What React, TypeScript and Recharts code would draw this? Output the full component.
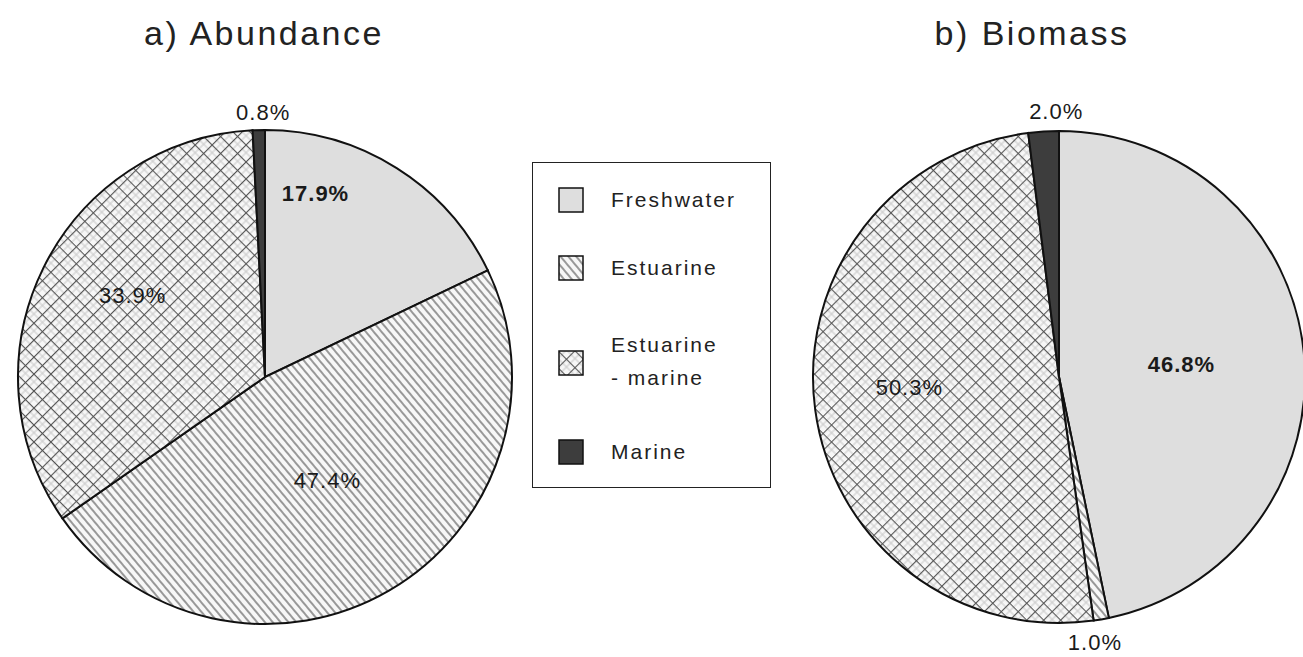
import { PieChart, Pie, Cell, Legend } from "recharts"

const categories = ["Freshwater", "Estuarine", "Estuarine - marine", "Marine"]
const abundanceValues = [17.9, 47.4, 33.9, 0.8]
const biomassValues = [46.8, 1.0, 50.3, 2.0]
const abundanceLabels = ["17.9%", "47.4%", "33.9%", "0.8%"]
const biomassLabels = ["46.8%", "1.0%", "50.3%", "2.0%"]

// label spots as [angle in degrees, fraction of the outer radius]
const abundanceSpots: [number, number][] = [[74.6, 0.77], [-59, 0.49], [148.3, 0.63], [90.4, 1.07]]
const biomassSpots: [number, number][] = [[5.6, 0.5], [-82.3, 1.09], [184.2, 0.61], [90.6, 1.08]]
const abundanceBold = [true, false, false, false]
const biomassBold = [true, false, false, false]

const fills = ["url(#fresh)", "url(#estuarine)", "url(#estmarine)", "#3d3d3d"]
const FONT = "'Liberation Sans', Arial, Helvetica, sans-serif"
const RAD = Math.PI / 180

const abundanceData = categories.map((name, i) => ({ name, value: abundanceValues[i], text: abundanceLabels[i] }))
const biomassData = categories.map((name, i) => ({ name, value: biomassValues[i], text: biomassLabels[i] }))

function makeLabel(spots: [number, number][], bold: boolean[]) {
  return (props: any) => {
    const { cx, cy, outerRadius, index, payload } = props
    const [ang, frac] = spots[index]
    const r = outerRadius * frac
    const x = cx + r * Math.cos(ang * RAD)
    const y = cy - r * Math.sin(ang * RAD)
    return (
      <text
        x={x}
        y={y}
        textAnchor="middle"
        dominantBaseline="central"
        fontFamily={FONT}
        fontSize={22}
        letterSpacing={1}
        fontWeight={bold[index] ? 700 : 400}
        fill="#1a1a1a"
      >
        {payload.text}
      </text>
    )
  }
}

function Swatch({ fill }: { fill: string }) {
  return (
    <svg width={27} height={27} style={{ display: "block" }}>
      <rect x={1} y={1} width={24} height={24} fill={fill} stroke="#111" strokeWidth={1.5} />
    </svg>
  )
}

function LegendBox() {
  const rows = [
    { top: 186, lines: ["Freshwater"] },
    { top: 254, lines: ["Estuarine"] },
    { top: 349, lines: ["Estuarine", "- marine"] },
    { top: 438, lines: ["Marine"] },
  ]
  return (
    <div
      style={{
        position: "absolute",
        left: 532,
        top: 162,
        width: 237,
        height: 324,
        border: "1.5px solid #222",
        fontFamily: FONT,
        fontSize: 21,
        letterSpacing: 2,
        color: "#222",
        background: "white",
      }}
    >
      {rows.map((row, i) => (
        <div key={categories[i]}>
          <div style={{ position: "absolute", left: 25, top: row.top - 162 }}>
            <Swatch fill={fills[i]} />
          </div>
          <div
            style={{
              position: "absolute",
              left: 78,
              top: row.top - 162 + (row.lines.length > 1 ? -22 : -4),
              lineHeight: "33px",
            }}
          >
            {row.lines.map((l) => (
              <div key={l}>{l}</div>
            ))}
          </div>
        </div>
      ))}
    </div>
  )
}

export default function App() {
  const titleStyle = {
    position: "absolute" as const,
    top: 14,
    transform: "translateX(-50%)",
    fontFamily: FONT,
    fontSize: 34,
    letterSpacing: 2.5,
    color: "#222",
    whiteSpace: "nowrap" as const,
  }
  return (
    <div style={{ position: "fixed", left: 0, top: 0, width: 1303, height: 657, background: "white" }}>
      <div style={{ ...titleStyle, left: 264 }}>a) Abundance</div>
      <div style={{ ...titleStyle, left: 1032 }}>b) Biomass</div>
      <PieChart width={1303} height={657} style={{ position: "absolute", left: 0, top: 0 }}>
        <defs>
          <pattern id="fresh" patternUnits="userSpaceOnUse" width={8} height={8}>
            <rect width={8} height={8} fill="#dedede" />
          </pattern>
          <pattern id="estuarine" patternUnits="userSpaceOnUse" width={6} height={6} patternTransform="rotate(-40)">
            <rect width={6} height={6} fill="#f7f7f7" />
            <line x1={1} y1={0} x2={1} y2={6} stroke="#4a4a4a" strokeWidth={1.1} />
          </pattern>
          <pattern id="estmarine" patternUnits="userSpaceOnUse" width={12} height={12} patternTransform="rotate(45)">
            <rect width={12} height={12} fill="#f7f7f7" />
            <line x1={0} y1={6} x2={12} y2={6} stroke="#c8c8c8" strokeWidth={1} />
            <line x1={6} y1={0} x2={6} y2={12} stroke="#c8c8c8" strokeWidth={1} />
            <line x1={0} y1={0.5} x2={12} y2={0.5} stroke="#555" strokeWidth={1.2} />
            <line x1={0.5} y1={0} x2={0.5} y2={12} stroke="#555" strokeWidth={1.2} />
          </pattern>
        </defs>
        <Pie
          data={abundanceData}
          dataKey="value"
          nameKey="name"
          cx={260}
          cy={372}
          outerRadius={247}
          startAngle={90}
          endAngle={-270}
          stroke="#111"
          strokeWidth={2}
          labelLine={false}
          label={makeLabel(abundanceSpots, abundanceBold)}
          isAnimationActive={false}
        >
          {abundanceData.map((d, i) => (
            <Cell key={d.name} fill={fills[i]} />
          ))}
        </Pie>
        <Pie
          data={biomassData}
          dataKey="value"
          nameKey="name"
          cx={1054}
          cy={372}
          outerRadius={246}
          startAngle={90}
          endAngle={-270}
          stroke="#111"
          strokeWidth={2}
          labelLine={false}
          label={makeLabel(biomassSpots, biomassBold)}
          isAnimationActive={false}
        >
          {biomassData.map((d, i) => (
            <Cell key={d.name} fill={fills[i]} />
          ))}
        </Pie>
        <Legend content={() => null} />
      </PieChart>
      <LegendBox />
    </div>
  )
}
